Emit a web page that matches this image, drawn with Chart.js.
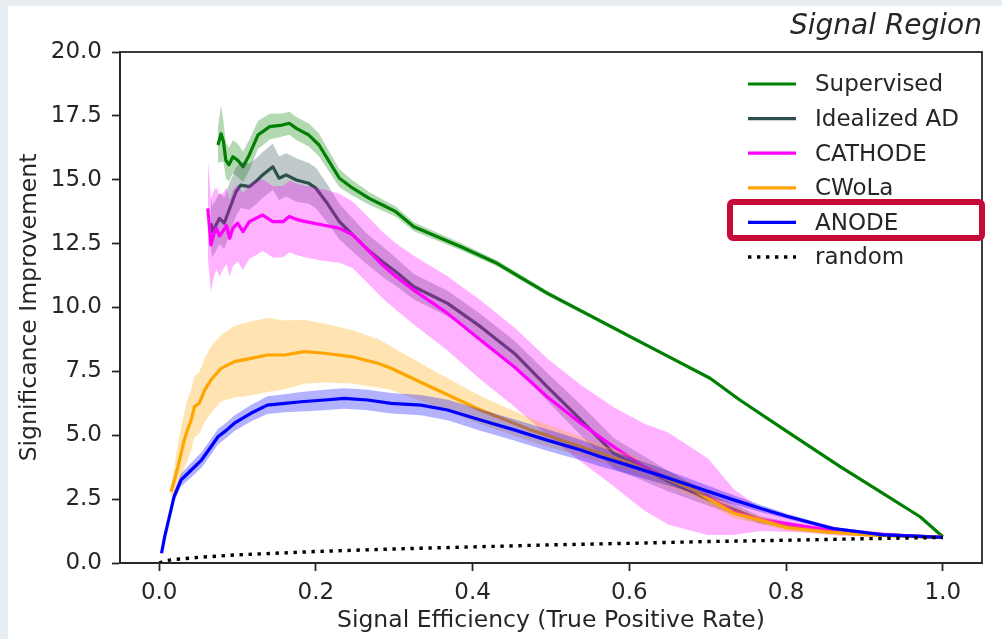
<!DOCTYPE html>
<html>
<head>
<meta charset="utf-8">
<title>Signal Region - significance improvement</title>
<script src="https://cdn.jsdelivr.net/npm/chart.js@4.4.1/dist/chart.umd.min.js"></script>
<style>
  html, body { margin: 0; padding: 0; background: #e9eef3; }
  #panel { position: absolute; left: 8px; top: 6px; width: 994px; height: 633px; background: #fff; }
</style>
</head>
<body>
<div id="panel"><canvas id="sicChart"></canvas></div>
<script>
// Signal efficiency (x) vs significance improvement (y), mean curves plus spread
const supX = [0.075, 0.079, 0.082, 0.085, 0.089, 0.094, 0.100, 0.107, 0.115, 0.126, 0.141, 0.157, 0.166, 0.175, 0.191, 0.204, 0.217, 0.230, 0.247, 0.268, 0.285, 0.302, 0.325, 0.355, 0.385, 0.431, 0.495, 0.550, 0.601, 0.650, 0.703, 0.741, 0.800, 0.869, 0.920, 0.971, 1.000];
const supY = [16.36, 16.80, 16.50, 15.77, 15.58, 15.90, 15.77, 15.51, 15.97, 16.75, 17.08, 17.14, 17.21, 17.01, 16.75, 16.36, 15.71, 15.06, 14.67, 14.27, 14.01, 13.75, 13.16, 12.77, 12.38, 11.73, 10.56, 9.68, 8.86, 8.08, 7.23, 6.38, 5.17, 3.77, 2.79, 1.81, 1.03];
const supErr = [0.7, 1.1, 0.8, 0.7, 0.65, 0.65, 0.65, 0.6, 0.6, 0.55, 0.5, 0.45, 0.45, 0.45, 0.45, 0.45, 0.4, 0.35, 0.3, 0.25, 0.22, 0.2, 0.18, 0.16, 0.14, 0.12, 0.1, 0.08, 0.07, 0.06, 0.05, 0.05, 0.04, 0.04, 0.03, 0.02, 0.0];

const adX = [0.066, 0.068, 0.072, 0.077, 0.083, 0.090, 0.098, 0.104, 0.115, 0.124, 0.132, 0.145, 0.153, 0.162, 0.175, 0.191, 0.200, 0.213, 0.230, 0.247, 0.264, 0.285, 0.302, 0.325, 0.368, 0.410, 0.453, 0.495, 0.538, 0.580, 0.614, 0.650, 0.700, 0.767, 0.818, 0.870, 0.930, 1.000];
const adY = [13.30, 12.97, 13.20, 13.49, 13.30, 13.88, 14.53, 14.79, 14.73, 14.95, 15.19, 15.51, 15.06, 15.19, 14.99, 14.86, 14.67, 14.14, 13.36, 12.84, 12.32, 11.79, 11.40, 10.81, 10.16, 9.25, 8.21, 6.90, 5.60, 4.29, 3.77, 3.20, 2.50, 1.68, 1.42, 1.22, 1.10, 1.00];
const adErr = [1.0, 1.0, 1.0, 1.0, 1.0, 1.0, 0.95, 0.9, 0.9, 0.9, 0.9, 0.9, 0.85, 0.85, 0.85, 0.8, 0.8, 0.75, 0.7, 0.65, 0.6, 0.6, 0.55, 0.5, 0.5, 0.5, 0.5, 0.55, 0.6, 0.6, 0.5, 0.4, 0.25, 0.15, 0.1, 0.07, 0.04, 0.0];

const cathX = [0.062, 0.064, 0.066, 0.070, 0.073, 0.077, 0.081, 0.086, 0.090, 0.094, 0.100, 0.107, 0.115, 0.124, 0.132, 0.145, 0.158, 0.166, 0.175, 0.187, 0.209, 0.230, 0.247, 0.264, 0.285, 0.302, 0.325, 0.368, 0.410, 0.453, 0.495, 0.538, 0.580, 0.618, 0.650, 0.700, 0.733, 0.767, 0.818, 0.870, 0.930, 1.000];
const cathY = [13.88, 13.20, 12.45, 12.90, 13.10, 12.80, 12.97, 13.20, 12.71, 13.10, 13.30, 12.97, 13.36, 13.50, 13.62, 13.36, 13.36, 13.56, 13.45, 13.36, 13.23, 13.10, 12.84, 12.32, 11.66, 11.21, 10.68, 9.77, 8.73, 7.68, 6.51, 5.47, 4.55, 3.77, 3.30, 2.60, 2.00, 1.70, 1.45, 1.22, 1.10, 1.00];
const cathErr = [1.9, 1.9, 1.8, 1.7, 1.6, 1.6, 1.5, 1.5, 1.5, 1.5, 1.5, 1.5, 1.45, 1.45, 1.4, 1.4, 1.4, 1.4, 1.4, 1.4, 1.4, 1.35, 1.3, 1.3, 1.3, 1.3, 1.35, 1.45, 1.55, 1.55, 1.5, 1.5, 1.55, 1.7, 1.8, 1.5, 0.9, 0.45, 0.25, 0.15, 0.08, 0.0];

const cwolaX = [0.015, 0.020, 0.024, 0.028, 0.032, 0.036, 0.041, 0.045, 0.051, 0.058, 0.066, 0.079, 0.096, 0.117, 0.138, 0.160, 0.185, 0.211, 0.245, 0.279, 0.296, 0.346, 0.410, 0.474, 0.538, 0.601, 0.682, 0.733, 0.767, 0.801, 0.850, 0.903, 0.950, 1.000];
const cwolaY = [2.79, 3.30, 3.77, 4.30, 4.81, 5.20, 5.60, 6.12, 6.25, 6.77, 7.16, 7.62, 7.88, 8.01, 8.14, 8.14, 8.27, 8.21, 8.08, 7.82, 7.62, 6.90, 5.99, 5.21, 4.55, 3.90, 2.86, 1.95, 1.68, 1.38, 1.22, 1.10, 1.04, 1.00];
const cwolaErr = [0.2, 0.6, 0.9, 1.0, 1.1, 1.2, 1.2, 1.2, 1.2, 1.25, 1.3, 1.3, 1.4, 1.45, 1.45, 1.35, 1.25, 1.15, 1.05, 0.95, 0.85, 0.7, 0.55, 0.45, 0.38, 0.32, 0.25, 0.2, 0.15, 0.12, 0.08, 0.05, 0.03, 0.0];

const anodeX = [0.003, 0.007, 0.013, 0.019, 0.028, 0.041, 0.054, 0.065, 0.075, 0.086, 0.096, 0.117, 0.138, 0.160, 0.181, 0.211, 0.236, 0.266, 0.296, 0.334, 0.368, 0.410, 0.453, 0.495, 0.538, 0.563, 0.597, 0.640, 0.682, 0.733, 0.767, 0.801, 0.860, 0.924, 1.000];
const anodeY = [0.38, 1.03, 1.81, 2.60, 3.25, 3.64, 4.03, 4.50, 4.94, 5.20, 5.47, 5.86, 6.18, 6.25, 6.31, 6.38, 6.44, 6.38, 6.25, 6.18, 5.99, 5.60, 5.21, 4.81, 4.42, 4.16, 3.84, 3.42, 2.99, 2.47, 2.14, 1.83, 1.35, 1.10, 1.00];
const anodeErr = [0.05, 0.1, 0.15, 0.2, 0.25, 0.28, 0.3, 0.3, 0.3, 0.3, 0.3, 0.32, 0.35, 0.35, 0.38, 0.4, 0.4, 0.4, 0.4, 0.4, 0.4, 0.42, 0.42, 0.42, 0.4, 0.38, 0.35, 0.3, 0.25, 0.18, 0.14, 0.1, 0.07, 0.04, 0.0];

const randX = [0, 0.01, 0.02, 0.05, 0.1, 0.2, 0.3, 0.4, 0.5, 0.6, 0.7, 0.8, 0.9, 1.0];
const randY = [0.0, 0.10, 0.14, 0.22, 0.32, 0.45, 0.55, 0.63, 0.71, 0.77, 0.84, 0.89, 0.95, 1.0];

const xTicks = [0, 0.2, 0.4, 0.6, 0.8, 1.0];
const yTicks = [0, 2.5, 5, 7.5, 10, 12.5, 15, 17.5, 20];

const INK = '#262626';
const FONT = "'DejaVu Sans', sans-serif";
Chart.defaults.font.family = FONT;

const series = [
  { label: 'Supervised', color: '#008000', band: 'rgba(0, 128, 0, 0.3)', xs: supX, ys: supY, err: supErr },
  { label: 'Idealized AD', color: '#2f4f4f', band: 'rgba(47, 79, 79, 0.3)', xs: adX, ys: adY, err: adErr },
  { label: 'CATHODE', color: '#ff00ff', band: 'rgba(255, 0, 255, 0.3)', xs: cathX, ys: cathY, err: cathErr },
  { label: 'CWoLa', color: '#ffa500', band: 'rgba(255, 165, 0, 0.3)', xs: cwolaX, ys: cwolaY, err: cwolaErr },
  { label: 'ANODE', color: '#0000ff', band: 'rgba(0, 0, 255, 0.3)', xs: anodeX, ys: anodeY, err: anodeErr, highlight: true },
];

const pts = (xs, ys) => xs.map((x, i) => ({ x, y: ys[i] }));
const hidden = { borderColor: 'rgba(0,0,0,0)', borderWidth: 0, pointRadius: 0 };

// later series sit on top, like the order they were plotted in
const datasets = [];
let order = 100;
series.forEach(s => {
  datasets.push({ ...hidden, label: s.label + ' upper', data: pts(s.xs, s.ys.map((y, i) => y + s.err[i])), fill: false, order: order-- });
  datasets.push({ ...hidden, label: s.label + ' lower', data: pts(s.xs, s.ys.map((y, i) => y - s.err[i])), fill: '-1', backgroundColor: s.band, order: order-- });
  datasets.push({
    label: s.label, data: pts(s.xs, s.ys), borderColor: s.color, borderWidth: 3.2,
    pointRadius: 0, fill: false, inLegend: true, highlight: !!s.highlight, order: order--
  });
});
datasets.push({
  label: 'random', data: pts(randX, randY), borderColor: '#000', borderWidth: 3.4,
  borderDash: [3.4, 5.6], borderCapStyle: 'butt', pointRadius: 0, fill: false, inLegend: true, order: order--
});

// frame, in-axes legend and the box around ANODE
const insideLegend = {
  id: 'insideLegend',
  afterDraw(chart) {
    const { ctx, chartArea: a } = chart;
    ctx.save();
    ctx.strokeStyle = INK;
    ctx.lineWidth = 1.8;
    ctx.strokeRect(a.left, a.top, a.right - a.left, a.bottom - a.top);

    ctx.font = "23px " + FONT;
    ctx.textBaseline = 'middle';
    ctx.textAlign = 'left';
    chart.data.datasets.filter(d => d.inLegend).forEach((d, i) => {
      const y = a.top + 32 + i * 34.6;
      ctx.strokeStyle = d.borderColor;
      ctx.lineWidth = d.borderWidth;
      ctx.lineCap = d.borderCapStyle || 'butt';
      ctx.setLineDash(d.borderDash || []);
      ctx.beginPath();
      ctx.moveTo(a.right - 234, y);
      ctx.lineTo(a.right - 186, y);
      ctx.stroke();
      ctx.setLineDash([]);
      ctx.fillStyle = INK;
      ctx.fillText(d.label, a.right - 167, y + 1.5);

      if (d.highlight) {
        ctx.strokeStyle = '#c70a38';
        ctx.lineWidth = 6;
        ctx.beginPath();
        ctx.roundRect(a.right - 252, y - 20.5, 252, 36, 3);
        ctx.stroke();
      }
    });
    ctx.restore();
  }
};

const tickFont = { family: FONT, size: 23 };
const labelFont = { family: FONT, size: 23.5 };

new Chart(document.getElementById('sicChart'), {
  type: 'line',
  data: { datasets },
  plugins: [insideLegend],
  options: {
    responsive: true,
    maintainAspectRatio: false,
    animation: false,
    devicePixelRatio: 1,
    events: [],
    layout: { padding: { top: 0, right: 20, bottom: 0, left: 0 } },
    elements: { line: { tension: 0, borderJoinStyle: 'round' } },
    plugins: {
      legend: { display: false },
      tooltip: { enabled: false },
      title: {
        display: true,
        text: 'Signal Region',
        align: 'end',
        color: INK,
        font: { family: FONT, size: 28, style: 'italic', weight: 'normal', lineHeight: 1.2 },
        padding: { top: 4, bottom: 8.4 }
      }
    },
    scales: {
      x: {
        type: 'linear',
        min: -0.05,
        max: 1.05,
        afterBuildTicks: s => { s.ticks = xTicks.map(v => ({ value: v })); },
        afterFit: s => { s.height = 76; },
        ticks: { callback: v => v.toFixed(1), font: tickFont, color: INK, padding: 8, maxRotation: 0, autoSkip: false },
        grid: { drawOnChartArea: false, drawTicks: true, tickLength: 8, tickWidth: 1.8, tickColor: INK },
        border: { display: true, color: INK, width: 1.8 },
        title: {
          display: true, text: 'Signal Efficiency (True Positive Rate)', color: INK,
          font: labelFont, padding: { top: 0, bottom: 4.5 }
        }
      },
      y: {
        type: 'linear',
        min: 0,
        max: 20,
        afterBuildTicks: s => { s.ticks = yTicks.map(v => ({ value: v })); },
        afterFit: s => { s.width = 112; },
        ticks: { callback: v => v.toFixed(1), font: tickFont, color: INK, padding: 10, autoSkip: false },
        grid: { drawOnChartArea: false, drawTicks: true, tickLength: 8, tickWidth: 1.8, tickColor: INK },
        border: { display: true, color: INK, width: 1.8 },
        title: {
          display: true, text: 'Significance Improvement', color: INK,
          font: labelFont, padding: { top: 8, bottom: 0 }
        }
      }
    }
  }
});
</script>
</body>
</html>
